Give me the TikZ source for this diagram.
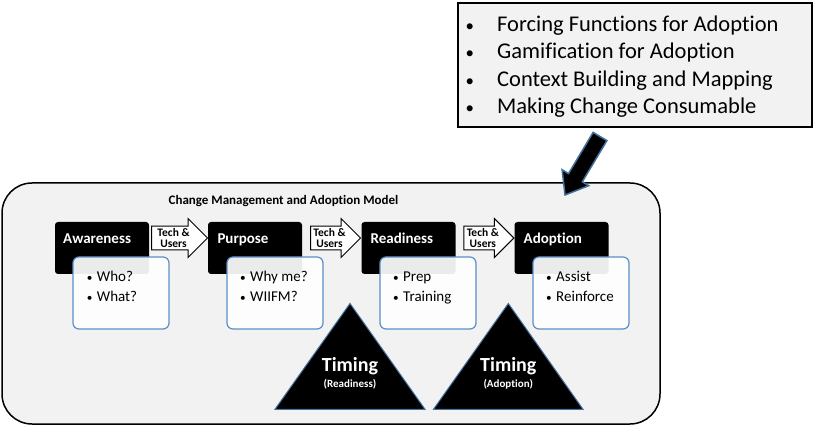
\documentclass[tikz,border=0pt]{standalone}
\usepackage{fontspec}
\setmainfont{Carlito}[Ligatures=NoCommon]
\usetikzlibrary{shapes.arrows}
\definecolor{panel}{RGB}{242,242,242}
\definecolor{boxblue}{RGB}{91,143,201}
\definecolor{triblue}{RGB}{65,113,156}
\newcommand\fsz[2]{\fontsize{#1}{#2}\selectfont}
\newcommand\smallbul{\scalebox{0.75}{\textbullet}}
\begin{document}
\begin{tikzpicture}[x=1pt,y=-1pt,
  stage/.style={fill=black, rounded corners=3pt, minimum width=94pt, minimum height=52pt, inner sep=0pt},
  stagelabel/.style={anchor=base west, inner sep=0pt, text=white, font=\fsz{15}{18}\bfseries},
  detail/.style={draw=boxblue, line width=1.2pt, fill=white, fill opacity=0.92, rounded corners=6pt, minimum width=96pt, minimum height=72pt, inner sep=0pt},
  detailtext/.style={anchor=base west, inner sep=0pt, font=\fsz{15}{20}},
  techarrow/.style={single arrow, draw=black, line width=1pt, fill=white, inner xsep=1pt, inner ysep=1.8pt, single arrow head extend=7.5pt, align=center, font=\fsz{11.5}{11}\bfseries, anchor=tail},
  timing/.style={fill=black, draw=triblue, line width=1pt},
  timingbig/.style={anchor=base, inner sep=0pt, text=white, font=\fsz{20}{24}\bfseries},
  timingsmall/.style={anchor=base, inner sep=0pt, text=white, font=\fsz{11}{13}\bfseries}
]
\useasboundingbox (0,0) rectangle (813,427);

% main panel
\node[draw=black, line width=1.5pt, fill=panel, rounded corners=30pt, minimum width=658pt, minimum height=241pt, inner sep=0pt] (model) at (331,303.5) {};
\node[anchor=base, inner sep=0pt, font=\fsz{13}{16}\bfseries] (title) at (283.5,205) {Change Management and Adoption Model};

% stages
\node[stage] (aw) at (102,248) {};
\node[stage] (pu) at (255,248) {};
\node[stage] (re) at (408.5,248) {};
\node[stage] (ad) at (561.5,248) {};
\node[stagelabel] (awl) at (63,243.3) {Awareness};
\node[stagelabel] (pul) at (217.3,243.3) {Purpose};
\node[stagelabel] (rel) at (370.5,243.3) {Readiness};
\node[stagelabel] (adl) at (523.5,243.3) {Adoption};

% detail boxes
\node[detail] (awd) at (121,293) {};
\node[detail] (pud) at (275,293) {};
\node[detail] (red) at (428,293) {};
\node[detail] (add) at (581,293) {};
\node[detailtext] (awt) at (86.7,281.7) {\begin{tabular}[t]{@{}l@{}}\makebox[10pt][l]{\smallbul}Who?\\\makebox[10pt][l]{\smallbul}What?\end{tabular}};
\node[detailtext] (put) at (240,281.7) {\begin{tabular}[t]{@{}l@{}}\makebox[10pt][l]{\smallbul}Why me?\\\makebox[10pt][l]{\smallbul}WIIFM?\end{tabular}};
\node[detailtext] (ret) at (393,281.7) {\begin{tabular}[t]{@{}l@{}}\makebox[10pt][l]{\smallbul}Prep\\\makebox[10pt][l]{\smallbul}Training\end{tabular}};
\node[detailtext] (adt) at (546,281.7) {\begin{tabular}[t]{@{}l@{}}\makebox[10pt][l]{\smallbul}Assist\\\makebox[10pt][l]{\smallbul}Reinforce\end{tabular}};

% tech & users arrows
\node[techarrow, minimum height=56pt] (ta1) at (151,238) {Tech \&\\Users};
\node[techarrow, minimum height=50pt] (ta2) at (310,238) {Tech \&\\Users};
\node[techarrow, minimum height=50pt] (ta3) at (463.3,238) {Tech \&\\Users};

% timing triangles
\draw[timing] (350,303.5) -- (425,409.3) -- (275,409.3) -- cycle;
\draw[timing] (508.3,303.5) -- (583,409.3) -- (433.5,409.3) -- cycle;
\node[timingbig] (t1) at (350,371.7) {Timing};
\node[timingsmall] (t1s) at (350,387) {(Readiness)};
\node[timingbig] (t2) at (508.3,371.7) {Timing};
\node[timingsmall] (t2s) at (508.3,387) {(Adoption)};

% top list box
\node[draw=black, line width=2pt, fill=panel, minimum width=354pt, minimum height=124pt, inner sep=0pt] (list) at (634.5,65) {};
\node[anchor=base west, inner sep=0pt, font=\fsz{22.5}{27.2}] (listtext) at (465.5,31.7) {\begin{tabular}[t]{@{}l@{}}\makebox[31.5pt][l]{\smallbul}Forcing Functions for Adoption\\\makebox[31.5pt][l]{\smallbul}Gamification for Adoption\\\makebox[31.5pt][l]{\smallbul}Context Building and Mapping\\\makebox[31.5pt][l]{\smallbul}Making Change Consumable\end{tabular}};

% big arrow
\draw[fill=black, draw=triblue, line width=1.5pt, line join=miter]
  (606.9,140.6) -- (593.1,132.4) -- (568.5,173.6) -- (562.1,169.7) -- (565,195) -- (588.7,185.7) -- (582.3,181.8) -- cycle;
\end{tikzpicture}
\end{document}
